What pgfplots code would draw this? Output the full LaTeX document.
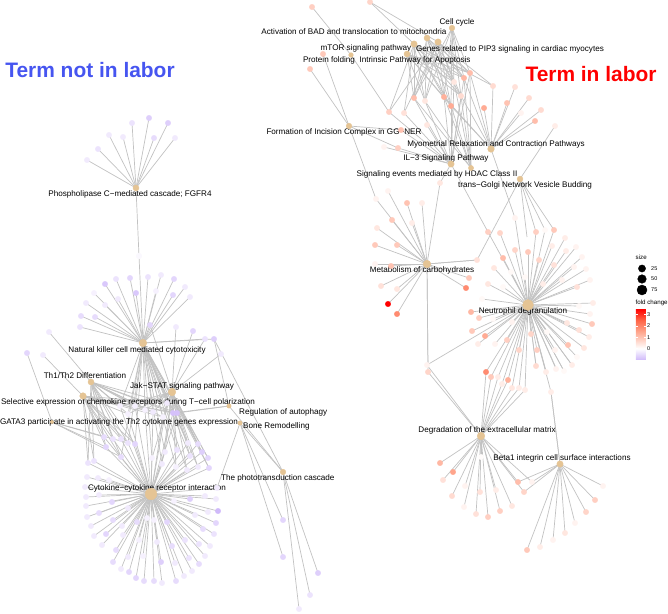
\documentclass[border=0pt]{standalone}
\usepackage{pgfplots}
\usepackage{pgfplotstable}
\usepackage{fontspec}
\setmainfont{Liberation Sans}
\pgfplotsset{compat=1.18}
\definecolor{hub}{HTML}{E5C494}
\definecolor{edgegrey}{HTML}{C2C2C2}

% left network
\pgfplotstableread[row sep=\\]{x y c\\ 132 123 -0.4\\ 149 118 -0.7\\ 168 123 -0.7\\ 154 138 -0.5\\ 175 138 -0.3\\ 123 137 -0.3\\ 109 135 -0.3\\ 98 149 -0.4\\ 87 160 -0.3\\ 139 256 -0.1\\}\lPhos
\pgfplotstableread[row sep=\\]{x y c\\ 139 256 -0.1\\ 116 279 -0.4\\ 105 284 -0.8\\ 130 278 -0.6\\ 148 277 -0.4\\ 161 275 -0.3\\ 174 279 -0.6\\ 185 287 -0.3\\ 190 297 -0.3\\ 173 295 -0.6\\ 156 291 -0.2\\ 136 293 -0.8\\ 118 299 -0.3\\ 94 293 -0.2\\ 86 303 -0.3\\ 105 305 -0.3\\ 81 316 -0.5\\ 95 317 -0.5\\ 80 327 -0.4\\ 150 325 -0.6\\ 205 339 -0.4\\ 214 339 -0.7\\}\lNK
\pgfplotstableread[row sep=\\]{x y c\\ 128 414 -0.2\\ 120 406 -0.2\\ 135 406 -0.2\\ 153 412 -0.3\\ 163 417 -0.2\\ 145 410 -0.2\\ 167 403 -0.3\\ 173 413 -0.9\\ 177 413 -0.9\\}\lTop
\pgfplotstableread[row sep=\\]{x y c\\ 104 437 -0.5\\ 113 439 -0.4\\ 121 439 -0.4\\ 128 443 -0.4\\ 135 444 -0.6\\ 106 447 -0.6\\ 121 457 -0.5\\ 88 463 -0.4\\ 94 461 -0.4\\}\lMidA
\pgfplotstableread[row sep=\\]{x y c\\ 152 458 -0.2\\ 165 452 -0.3\\ 162 464 -0.3\\ 177 450 -0.4\\ 176 467 -0.2\\ 188 443 -0.3\\ 198 444 -0.5\\ 202 452 -0.7\\ 190 456 -0.4\\ 208 458 -0.6\\ 198 467 -0.3\\ 187 470 -0.3\\ 209 468 -0.6\\}\lMidB
\pgfplotstableread[row sep=\\]{x y c\\ 87 477 -0.3\\ 98 478 -0.3\\ 109 480 -0.2\\ 85 487 -0.3\\ 86 497 -0.3\\ 99 495 -0.3\\ 112 502 -0.6\\ 86 506 -0.3\\ 87 517 -0.3\\ 99 513 -0.5\\ 113 520 -0.5\\ 128 508 -0.3\\ 91 526 -0.3\\ 106 534 -0.6\\ 123 535 -0.3\\ 94 536 -0.3\\ 102 545 -0.3\\ 116 550 -0.5\\ 139 540 -0.2\\ 113 562 -0.5\\ 128 557 -0.3\\ 143 556 -0.2\\ 157 542 -0.3\\ 121 569 -0.3\\ 129 572 -0.6\\ 136 578 -0.6\\ 144 581 -0.5\\ 154 581 -0.5\\ 162 583 -0.3\\ 176 581 -0.5\\ 184 576 -0.3\\ 192 571 -0.3\\ 199 564 -0.5\\ 205 556 -0.3\\ 189 558 -0.4\\ 172 546 -0.5\\ 161 562 -0.7\\ 175 563 -0.3\\ 210 546 -0.3\\ 185 540 -0.4\\ 199 544 -0.4\\ 214 534 -0.4\\ 203 529 -0.5\\ 195 515 -0.3\\ 216 523 -0.6\\ 208 512 -0.3\\ 218 511 -1\\ 216 499 -0.3\\ 190 499 -0.7\\ 205 496 -0.3\\ 217 488 -0.3\\ 174 501 -0.2\\ 167 522 -0.6\\ 154 520 -0.2\\ 137 522 -0.5\\ 122 526 -0.3\\ 147 518 -0.2\\}\lCyto
\pgfplotstableread[row sep=\\]{x y c\\ 49 332 -0.3\\ 27 353 -0.6\\ 43 355 -0.3\\ 176 327 -0.3\\ 193 331 -0.6\\ 221 354 -0.3\\ 318 573 -0.7\\ 310 595 -0.4\\ 299 609 -0.3\\ 283 520 -0.6\\ 283 557 -0.6\\}\lMisc

% right network
\pgfplotstableread[row sep=\\]{x y c\\ 312 7 0.8\\ 370 2 0.7\\ 323 54 0.9\\ 310 69 0.9\\ 389 112 0.8\\ 404 113 0.5\\ 427 125 0.4\\ 401 130 1\\ 384 147 0.2\\ 398 148 0.8\\ 440 183 0.4\\ 555 126 0.3\\ 493 86 0.6\\ 515 87 0.5\\ 507 103 1\\ 529 98 0.6\\ 541 110 0.6\\ 521 113 0.2\\ 535 121 1.1\\ 484 108 1.4\\}\rUpper
\pgfplotstableread[row sep=\\]{x y c\\ 414 98 1.1\\ 425 101 0.4\\ 444 97 1.3\\ 451 106 1.4\\ 461 96 0.6\\ 454 82 0.4\\ 464 78 1.2\\ 470 73 1.1\\}\rCore
\pgfplotstableread[row sep=\\]{x y c\\ 388 191 0.2\\ 376 199 0.2\\ 407 203 1\\ 422 203 0.3\\ 392 220 0.9\\ 412 223 0.3\\ 377 228 0.4\\ 397 245 0.9\\ 375 245 0.9\\ 375 264 0.2\\ 391 266 1\\ 381 286 0.5\\ 397 289 0.4\\ 388 304 3.5\\ 397 314 1.9\\ 477 260 0.5\\ 469 278 0.9\\ 466 288 1.9\\}\rMeta
\pgfplotstableread[row sep=\\]{x y c\\ 515 218 0.2\\ 488 232 0.8\\ 500 233 0.7\\ 536 232 0.8\\ 545 230 0.1\\ 554 230 0.9\\ 565 238 0.3\\ 552 246 0.3\\ 566 251 0.3\\ 576 247 0.2\\ 582 257 0.2\\ 574 267 0.2\\ 554 265 0.5\\ 539 260 0.7\\ 528 252 0.9\\ 515 250 0.7\\ 503 258 1.1\\ 494 268 0.4\\ 511 272 0.1\\ 525 277 0.1\\ 543 284 0.3\\ 562 280 0.2\\ 586 269 0.2\\ 590 280 0.2\\ 577 287 0.5\\ 488 284 0.4\\ 503 287 0.1\\ 482 299 0.1\\ 593 303 0.3\\ 579 306 0.1\\ 590 314 0.2\\ 592 324 0.9\\ 567 323 0.4\\ 579 330 0.5\\ 589 337 0.3\\ 584 348 0.4\\ 568 345 1\\ 577 357 0.1\\ 572 365 0.3\\ 564 371 0.1\\ 556 369 0.2\\ 555 350 0.2\\ 546 372 0.3\\ 536 366 0.6\\ 537 350 0.8\\ 531 334 0.7\\ 547 332 0.1\\ 519 350 0.7\\ 507 340 0.8\\ 495 344 0.2\\ 478 344 0.3\\ 485 336 1.4\\ 472 331 0.9\\ 479 318 0.8\\ 493 319 0.1\\ 471 312 1.2\\ 512 322 0.2\\}\rNeut
\pgfplotstableread[row sep=\\]{x y c\\ 486 372 1.9\\ 491 377 0.9\\ 498 377 0.3\\ 502 384 0.3\\ 508 380 1.3\\ 512 388 0.4\\ 519 388 0.3\\ 525 390 0.3\\}\rShare
\pgfplotstableread[row sep=\\]{x y c\\ 427 365 0.2\\ 428 372 0.7\\ 440 463 1.2\\ 453 472 1.5\\ 443 480 0.5\\ 465 486 0.2\\ 452 496 0.6\\ 480 492 0.5\\ 496 490 0.3\\ 464 507 0.2\\ 476 514 0.5\\ 488 517 0.8\\ 500 511 0.8\\ 512 506 0.4\\ 518 482 1.1\\ 524 492 0.7\\ 532 482 0.2\\ 481 457 0.05\\}\rDegr
\pgfplotstableread[row sep=\\]{x y c\\ 603 486 0.2\\ 595 500 0.8\\ 586 512 0.7\\ 575 523 0.2\\ 565 533 0.4\\ 553 540 0.2\\ 540 547 0.3\\ 527 550 0.9\\ 551 392 0.3\\}\rBeta

% tables that only give extra edges
\pgfplotstableread[row sep=\\]{x y\\ 389 112\\ 404 113\\ 427 125\\ 401 130\\ 384 147\\ 398 148\\ 440 183\\ 488 232\\}\eIL
\pgfplotstableread[row sep=\\]{x y\\ 493 86\\ 515 87\\ 507 103\\ 529 98\\ 541 110\\ 521 113\\ 535 121\\ 484 108\\ 515 218\\ 451 106\\ 444 97\\ 461 96\\ 464 78\\ 470 73\\}\eMyo
\pgfplotstableread[row sep=\\]{x y\\ 555 126\\ 477 260\\ 527 237\\ 536 232\\ 545 230\\ 554 230\\}\eGolgi
\pgfplotstableread[row sep=\\]{x y\\ 312 7\\ 389 112\\}\eProt
\pgfplotstableread[row sep=\\]{x y\\ 323 54\\ 310 69\\ 401 130\\ 376 199\\ 398 148\\}\eForm
\pgfplotstableread[row sep=\\]{x y\\ 370 2\\ 389 112\\ 404 113\\ 493 86\\}\eTop
\pgfplotstableread[row sep=\\]{x y\\ 440 183\\ 428 366\\ 428 372\\ 477 260\\}\eMeta
\pgfplotstableread[row sep=\\]{x y\\ 427 365\\ 551 392\\ 536 365\\ 546 371\\ 556 368\\ 564 371\\ 572 365\\}\eNeut
\pgfplotstableread[row sep=\\]{x y\\ 518 482\\ 524 492\\ 532 482\\ 551 392\\}\eBeta
\pgfplotstableread[row sep=\\]{x y\\ 176 327\\ 193 331\\ 221 354\\ 205 339\\ 150 325\\}\eJak
\pgfplotstableread[row sep=\\]{x y\\ 173 413\\ 177 413\\ 283 472\\ 214 339\\}\eReg
\pgfplotstableread[row sep=\\]{x y\\ 217 488\\ 283 520\\ 283 557\\ 283 472\\}\eBone
\pgfplotstableread[row sep=\\]{x y\\ 214 339\\ 318 573\\ 310 595\\ 299 609\\}\ePhoto
\pgfplotstableread[row sep=\\]{x y\\ 49 332\\}\eThone
\pgfplotstableread[row sep=\\]{x y\\ 43 355\\}\eSel
\pgfplotstableread[row sep=\\]{x y\\ 27 353\\ 104 437\\ 106 447\\ 121 457\\ 128 443\\}\eGata
\pgfplotstableread[row sep=\\]{x y\\ 128 443\\ 135 444\\ 121 457\\}\eNK

% hubs, r is the marker radius
\pgfplotstableread[row sep=\\]{x y r\\ 136 188 3\\ 143 343 3.8\\ 91 382 3\\ 83 396 3.3\\ 172 392 3.8\\ 229 406 2.2\\ 240 423 2.2\\ 52 422 1.8\\ 283 472 2.8\\ 151 494 5.8\\ 452 28 2.8\\ 427 38 3\\ 438 42 3.2\\ 414 44 3.2\\ 407 54 3\\ 351 55 2.3\\ 349 126 2.8\\ 491 149 3.3\\ 451 164 3.2\\ 471 168 2.6\\ 520 179 2.9\\ 427 264 3.8\\ 528 305 5.4\\ 481 436 3.8\\ 560 464 3.2\\}\tHubs

\newcommand{\fan}[3]{\addplot[edge,quiver={u={#1-x},v={#2-y}}] table[x=x,y=y] {#3};}
\newcommand{\leaves}[1]{\addplot[leaf] table[x=x,y=y,meta=c] {#1};}
\tikzset{lbl/.style={font=\fontsize{8.15}{9}\selectfont,inner sep=0pt,text=black}}

\begin{document}
\begin{tikzpicture}
\path[use as bounding box] (0,0) rectangle (668bp,614bp);
\begin{axis}[
    at={(0,0)},anchor=south west,
    width=668bp,height=614bp,scale only axis,
    xmin=0,xmax=668,ymin=0,ymax=614,y dir=reverse,
    hide axis,clip=false,
    edge/.style={draw=edgegrey,line width=0.7bp,forget plot},
    leaf/.style={only marks,scatter,point meta=explicit,mark=*,mark size=2.7bp,forget plot,
        scatter/use mapped color={draw=mapped color,fill=mapped color}},
    colormap={fc}{rgb255(0cm)=(208,186,250); rgb255(2cm)=(255,255,255); rgb255(5cm)=(255,165,140); rgb255(7cm)=(255,100,70); rgb255(9cm)=(255,0,0)},
    point meta min=-1,point meta max=3.5,
    colorbar,
    colorbar style={
        at={(0.952,0.497)},anchor=north west,
        width=10bp,height=51bp,
        ytick={0,1,2,3},
        yticklabel style={font=\fontsize{5.5}{5.5}\selectfont,/pgf/number format/assume math mode=true,inner sep=1pt},
        axis line style={draw=none},
        major tick length=2bp,
        major tick style={draw=white},
    },
]
% left edges
\fan{136}{188}{\lPhos}
\fan{143}{343}{\lNK}
\fan{143}{343}{\lTop}
\fan{143}{343}{\lMidB}
\fan{143}{343}{\eNK}
\fan{151}{494}{\lCyto}
\fan{151}{494}{\lMidA}
\fan{151}{494}{\lMidB}
\fan{151}{494}{\lTop}
\fan{91}{382}{\lMidA}
\fan{91}{382}{\lTop}
\fan{83}{396}{\lMidA}
\fan{83}{396}{\lTop}
\fan{172}{392}{\lMidB}
\fan{172}{392}{\lTop}
\fan{172}{392}{\eJak}
\fan{229}{406}{\eReg}
\fan{240}{423}{\eBone}
\fan{283}{472}{\ePhoto}
\fan{91}{382}{\eThone}
\fan{83}{396}{\eSel}
\fan{52}{422}{\eGata}
% right edges
\fan{351}{55}{\eProt}
\fan{349}{126}{\eForm}
\fan{452}{28}{\rCore}
\fan{427}{38}{\rCore}
\fan{438}{42}{\rCore}
\fan{414}{44}{\rCore}
\fan{407}{54}{\rCore}
\fan{414}{44}{\eTop}
\fan{438}{42}{\eTop}
\fan{491}{149}{\eMyo}
\fan{451}{164}{\eIL}
\fan{451}{164}{\rCore}
\fan{471}{168}{\rCore}
\fan{520}{179}{\eGolgi}
\fan{427}{264}{\rMeta}
\fan{427}{264}{\eMeta}
\fan{528}{305}{\rNeut}
\fan{528}{305}{\rShare}
\fan{528}{305}{\eNeut}
\fan{481}{436}{\rDegr}
\fan{481}{436}{\rShare}
\fan{560}{464}{\rBeta}
\fan{560}{464}{\eBeta}
% leaves
\leaves{\lPhos}
\leaves{\lNK}
\leaves{\lTop}
\leaves{\lMidA}
\leaves{\lMidB}
\leaves{\lCyto}
\leaves{\lMisc}
\leaves{\rUpper}
\leaves{\rCore}
\leaves{\rMeta}
\leaves{\rNeut}
\leaves{\rShare}
\leaves{\rDegr}
\leaves{\rBeta}
% hubs
\addplot[only marks,mark=*,color=hub,forget plot,
    visualization depends on={\thisrow{r}\as\hubr},
    scatter,scatter src=x,
    scatter/@pre marker code/.code={\pgfset{}\pgfplotsset{mark size=\hubr bp}},
    scatter/@post marker code/.code={}]
    table[x=x,y=y] {\tHubs};
% size legend
\addplot[only marks,mark=*,black,mark size=3.6bp,forget plot] coordinates {(642,268.5)};
\addplot[only marks,mark=*,black,mark size=4.3bp,forget plot] coordinates {(642,279)};
\addplot[only marks,mark=*,black,mark size=5bp,forget plot] coordinates {(642,290)};

\node[font=\fontsize{6.2}{7}\selectfont,anchor=west,inner sep=0pt] at (axis cs:635.5,257) {size};
\node[font=\fontsize{5.5}{6}\selectfont,anchor=west,inner sep=0pt] at (axis cs:651,268.5) {25};
\node[font=\fontsize{5.5}{6}\selectfont,anchor=west,inner sep=0pt] at (axis cs:651,279) {50};
\node[font=\fontsize{5.5}{6}\selectfont,anchor=west,inner sep=0pt] at (axis cs:651,290) {75};
\node[font=\fontsize{6.2}{7}\selectfont,anchor=west,inner sep=0pt] at (axis cs:635.5,303) {fold change};

\node[font=\bfseries\fontsize{21}{24}\selectfont,text={rgb,255:red,70;green,85;blue,240}] at (axis cs:90,70) {Term not in labor};
\node[font=\bfseries\fontsize{21}{24}\selectfont,text=red] at (axis cs:591,74) {Term in labor};

\node[lbl] at (axis cs:130,194) {Phospholipase C−mediated cascade; FGFR4};
\node[lbl] at (axis cs:137,350) {Natural killer cell mediated cytotoxicity};
\node[lbl] at (axis cs:85,376) {Th1/Th2 Differentiation};
\node[lbl] at (axis cs:182,386) {Jak−STAT signaling pathway};
\node[lbl] at (axis cs:128,402) {Selective expression of chemokine receptors during T−cell polarization};
\node[lbl] at (axis cs:119,422) {GATA3 participate in activating the Th2 cytokine genes expression};
\node[lbl,anchor=west] at (axis cs:239,412) {Regulation of autophagy};
\node[lbl,anchor=west] at (axis cs:243,426) {Bone Remodelling};
\node[lbl,anchor=west] at (axis cs:221,478) {The phototransduction cascade};
\node[lbl] at (axis cs:157,488) {Cytokine−cytokine receptor interaction};
\node[lbl] at (axis cs:457,22) {Cell cycle};
\node[lbl] at (axis cs:354,32) {Activation of BAD and translocation to mitochondria};
\node[lbl] at (axis cs:366,48) {mTOR signaling pathway};
\node[lbl] at (axis cs:510,49) {Genes related to PIP3 signaling in cardiac myocytes};
\node[lbl] at (axis cs:329,60) {Protein folding};
\node[lbl] at (axis cs:415,60) {Intrinsic Pathway for Apoptosis};
\node[lbl] at (axis cs:344,132) {Formation of Incision Complex in GG−NER};
\node[lbl] at (axis cs:496,144) {Myometrial Relaxation and Contraction Pathways};
\node[lbl] at (axis cs:446,158) {IL−3 Signaling Pathway};
\node[lbl] at (axis cs:437,174) {Signaling events mediated by HDAC Class II};
\node[lbl] at (axis cs:525,185) {trans−Golgi Network Vesicle Budding};
\node[lbl] at (axis cs:422,270) {Metabolism of carbohydrates};
\node[lbl] at (axis cs:523,311) {Neutrophil degranulation};
\node[lbl] at (axis cs:487,430) {Degradation of the extracellular matrix};
\node[lbl] at (axis cs:562,458) {Beta1 integrin cell surface interactions};
\end{axis}
\end{tikzpicture}
\end{document}
